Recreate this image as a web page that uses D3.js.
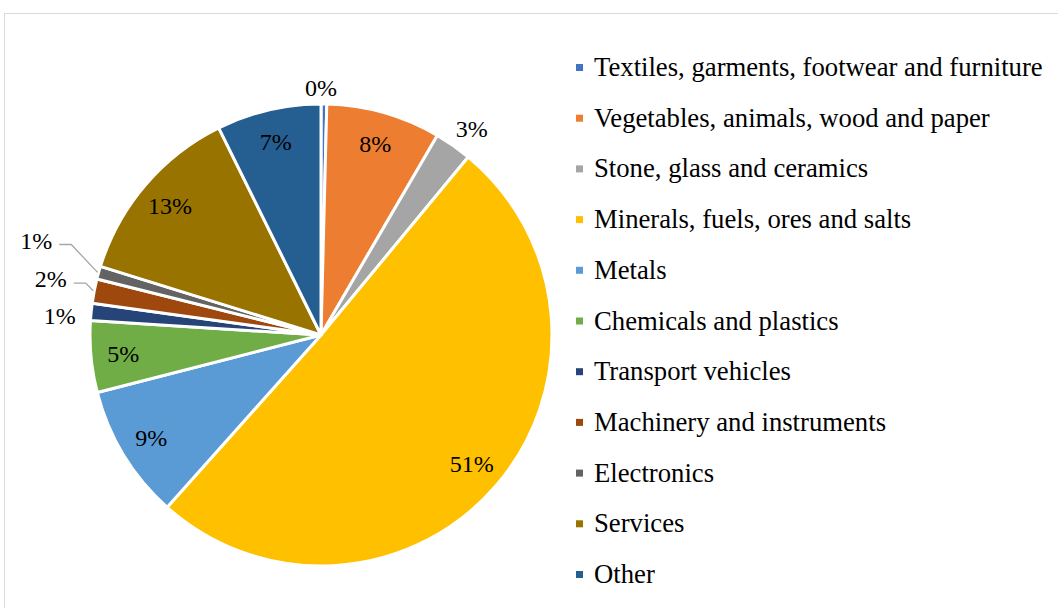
<!DOCTYPE html>
<html>
<head>
<meta charset="utf-8">
<script src="https://cdn.jsdelivr.net/npm/d3@7"></script>
<style>
  body { margin: 0; background: #fff; }
  svg { display: block; font-family: "Liberation Serif", "Times New Roman", serif; }
</style>
</head>
<body>
<svg id="chart" width="1058" height="608"></svg>
<script>
// categories and their shares (percent)
const categories = [
  "Textiles, garments, footwear and furniture",
  "Vegetables, animals, wood and paper",
  "Stone, glass and ceramics",
  "Minerals, fuels, ores and salts",
  "Metals",
  "Chemicals and plastics",
  "Transport vehicles",
  "Machinery and instruments",
  "Electronics",
  "Services",
  "Other"
];
const shares = [0.4, 8.0, 2.6, 50.6, 9.4, 5.0, 1.2, 1.7, 0.9, 12.9, 7.3];
const colors = [
  "#4472C4", "#ED7D31", "#A5A5A5", "#FFC000", "#5B9BD5", "#70AD47",
  "#264478", "#9E480E", "#636363", "#997300", "#255E91"
];

const data = categories.map((c, i) => ({ name: c, value: shares[i], color: colors[i] }));

const svg = d3.select("#chart");
const W = 1058, H = 608;

// chart frame
svg.append("rect")
  .attr("x", 4.5).attr("y", 13.5)
  .attr("width", W + 10).attr("height", H + 10)
  .attr("fill", "#fff")
  .attr("stroke", "#d9d9d9")
  .attr("stroke-width", 1);

const cx = 321, cy = 335, R = 231;
const total = d3.sum(shares);

const pie = d3.pie().sort(null).value(d => d.value);
const arcs = pie(data);
const arc = d3.arc().innerRadius(0).outerRadius(R);

const g = svg.append("g").attr("transform", `translate(${cx},${cy})`);

g.selectAll("path.slice")
  .data(arcs)
  .join("path")
  .attr("class", "slice")
  .attr("d", arc)
  .attr("fill", d => d.data.color)
  .attr("stroke", "#fff")
  .attr("stroke-width", 3)
  .attr("stroke-linejoin", "round");

// label placement: large slices inside, small ones outside
const pct = d => Math.round(d.value / total * 100) + "%";
const inside = d => d.value / total >= 0.04;
const polar = (a, r) => [Math.sin(a) * r, -Math.cos(a) * r];
const mid = d => (d.startAngle + d.endAngle) / 2;
const rad = deg => deg * Math.PI / 180;

// outside labels: radial distance beyond the rim and a small angular nudge (deg)
const outside = {
  0: [16, -0.7],
  2: [24, 1.3],
  6: [31, -1.6],
  7: [45, 0.7],
  8: [69, 2.7]
};
const leader = { 7: true, 8: true };

arcs.forEach((d, i) => {
  const a = mid(d);
  let p;
  if (inside(d)) {
    p = polar(a, R * 0.86);
  } else {
    const [dr, da] = outside[i] || [22, 0];
    p = polar(a + rad(da), R + dr);
  }
  if (leader[i]) {
    const e = polar(a, R + 1);
    const ly = p[1] + 4;
    g.append("polyline")
      .attr("points", [[p[0] + 23, ly], [p[0] + 35, ly], e].map(q => q.join(",")).join(" "))
      .attr("fill", "none")
      .attr("stroke", "#a6a6a6")
      .attr("stroke-width", 1.3);
  }
  g.append("text")
    .attr("x", p[0]).attr("y", p[1])
    .attr("text-anchor", "middle")
    .attr("dominant-baseline", "central")
    .attr("font-size", 24)
    .attr("fill", "#000")
    .text(pct(d));
});

// legend
const legend = svg.append("g").attr("transform", "translate(576,67)");
const rowH = 50.7;
const rows = legend.selectAll("g")
  .data(data)
  .join("g")
  .attr("transform", (d, i) => `translate(0,${i * rowH})`);
rows.append("rect")
  .attr("x", 0).attr("y", -3)
  .attr("width", 7).attr("height", 7)
  .attr("fill", d => d.color);
rows.append("text")
  .attr("x", 18).attr("y", 0)
  .attr("dominant-baseline", "central")
  .attr("font-size", 26.7)
  .attr("fill", "#000")
  .text(d => d.name);
</script>
</body>
</html>
